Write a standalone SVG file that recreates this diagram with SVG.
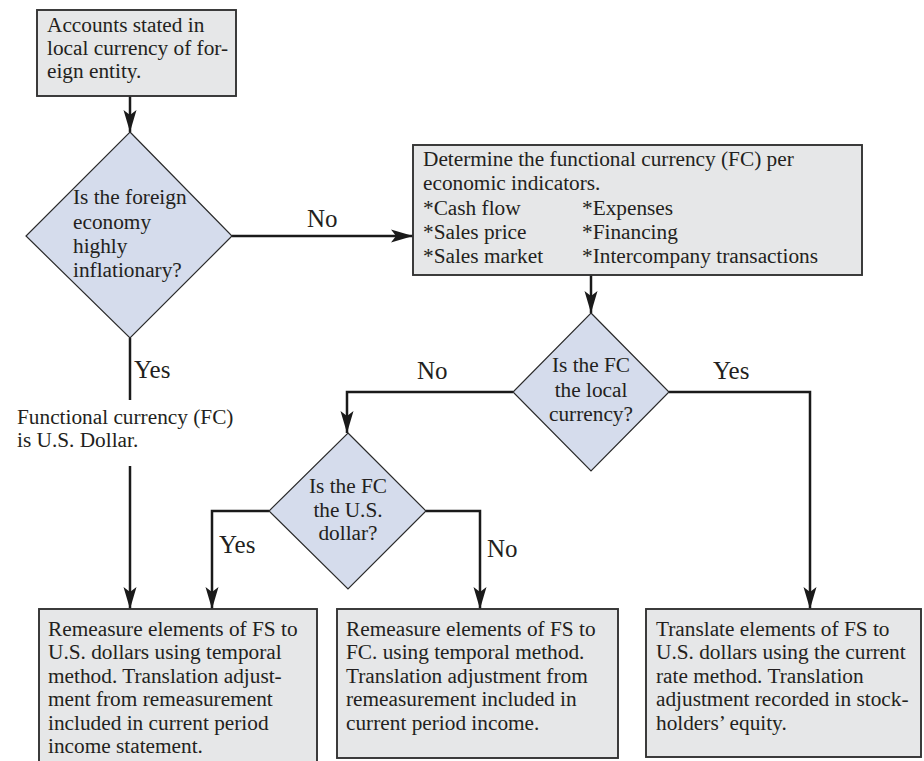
<svg xmlns="http://www.w3.org/2000/svg" width="924" height="761" viewBox="0 0 924 761">
  <style>
    .box { fill: #e6e7e8; stroke: #333333; stroke-width: 1.9; }
    .dia { fill: #d5dcec; stroke: #2a2a2a; stroke-width: 1.2; }
    .t { font-family: "Liberation Serif", "Times New Roman", serif; font-size: 21.3px; fill: #231f20; }
    .c { text-anchor: middle; }
    .lbl { font-family: "Liberation Serif", "Times New Roman", serif; font-size: 25px; fill: #231f20; }
    .wire { fill: none; stroke: #1a1a1a; stroke-width: 2.5; }
  </style>
  <defs>
    <marker id="ah" markerUnits="userSpaceOnUse" viewBox="0 0 24 14" markerWidth="24" markerHeight="14" refX="22" refY="7" orient="auto">
      <path d="M22,7 L0,0.5 L5,7 L0,13.5 Z" fill="#1a1a1a"/>
    </marker>
  </defs>
  <rect width="924" height="761" fill="#ffffff"/>

  <!-- connectors and their branch labels -->
  <g id="connectors">
    <path class="wire" d="M130,96 V132" marker-end="url(#ah)"/>
    <path class="wire" d="M232,236 H413" marker-end="url(#ah)"/>
    <path class="wire" d="M130,338 V400"/>
    <path class="wire" d="M130,466 V609" marker-end="url(#ah)"/>
    <path class="wire" d="M591,275 V313" marker-end="url(#ah)"/>
    <path class="wire" d="M513,392 H347 V433" marker-end="url(#ah)"/>
    <path class="wire" d="M669,392 H810 V609" marker-end="url(#ah)"/>
    <path class="wire" d="M269,511 H212 V609" marker-end="url(#ah)"/>
    <path class="wire" d="M426,511 H480 V609" marker-end="url(#ah)"/>
    <text class="lbl" x="307" y="227">No</text>
    <text class="lbl" x="134" y="378">Yes</text>
    <text class="lbl" x="417" y="379">No</text>
    <text class="lbl" x="713" y="379">Yes</text>
    <text class="lbl" x="219" y="553">Yes</text>
    <text class="lbl" x="487" y="557">No</text>
  </g>

  <g id="start">
    <rect class="box" x="37" y="10" width="199" height="86"/>
    <text class="t" x="47" y="32">Accounts stated in</text>
    <text class="t" x="47" y="55">local currency of for-</text>
    <text class="t" x="47" y="78">eign entity.</text>
  </g>

  <g id="q-inflation">
    <polygon class="dia" points="130,132 232,236 130,338 26,236"/>
    <text class="t" x="73" y="204">Is the foreign</text>
    <text class="t" x="73" y="229">economy</text>
    <text class="t" x="73" y="253">highly</text>
    <text class="t" x="73" y="277">inflationary?</text>
  </g>

  <g id="fc-dollar-note">
    <text class="t" x="17" y="424">Functional currency (FC)</text>
    <text class="t" x="17" y="447">is U.S. Dollar.</text>
  </g>

  <g id="determine-fc">
    <rect class="box" x="413" y="145" width="449" height="130"/>
    <text class="t" x="423" y="166">Determine the functional currency (FC) per</text>
    <text class="t" x="423" y="190">economic indicators.</text>
    <text class="t" x="423" y="215">*Cash flow</text>
    <text class="t" x="582" y="215">*Expenses</text>
    <text class="t" x="423" y="239">*Sales price</text>
    <text class="t" x="582" y="239">*Financing</text>
    <text class="t" x="423" y="263">*Sales market</text>
    <text class="t" x="582" y="263">*Intercompany transactions</text>
  </g>

  <g id="q-local">
    <polygon class="dia" points="591,313 669,392 591,471 513,392"/>
    <text class="t c" x="591" y="372">Is the FC</text>
    <text class="t c" x="591" y="397">the local</text>
    <text class="t c" x="591" y="421">currency?</text>
  </g>

  <g id="q-usd">
    <polygon class="dia" points="348,433 426,511 348,589 269,511"/>
    <text class="t c" x="348" y="493">Is the FC</text>
    <text class="t c" x="348" y="517">the U.S.</text>
    <text class="t c" x="348" y="540">dollar?</text>
  </g>

  <g id="remeasure-usd">
    <rect class="box" x="39" y="609" width="278" height="170"/>
    <text class="t" x="48" y="636">Remeasure elements of FS to</text>
    <text class="t" x="48" y="659">U.S. dollars using temporal</text>
    <text class="t" x="48" y="683">method. Translation adjust-</text>
    <text class="t" x="48" y="706">ment from remeasurement</text>
    <text class="t" x="48" y="730">included in current period</text>
    <text class="t" x="48" y="753">income statement.</text>
  </g>

  <g id="remeasure-fc">
    <rect class="box" x="337" y="609" width="281" height="149"/>
    <text class="t" x="346" y="636">Remeasure elements of FS to</text>
    <text class="t" x="346" y="659">FC. using temporal method.</text>
    <text class="t" x="346" y="683">Translation adjustment from</text>
    <text class="t" x="346" y="706">remeasurement included in</text>
    <text class="t" x="346" y="730">current period income.</text>
  </g>

  <g id="translate-current">
    <rect class="box" x="646" y="609" width="275" height="148"/>
    <text class="t" x="656" y="636">Translate elements of FS to</text>
    <text class="t" x="656" y="659">U.S. dollars using the current</text>
    <text class="t" x="656" y="683">rate method. Translation</text>
    <text class="t" x="656" y="706">adjustment recorded in stock-</text>
    <text class="t" x="656" y="730">holders’ equity.</text>
  </g>
</svg>
